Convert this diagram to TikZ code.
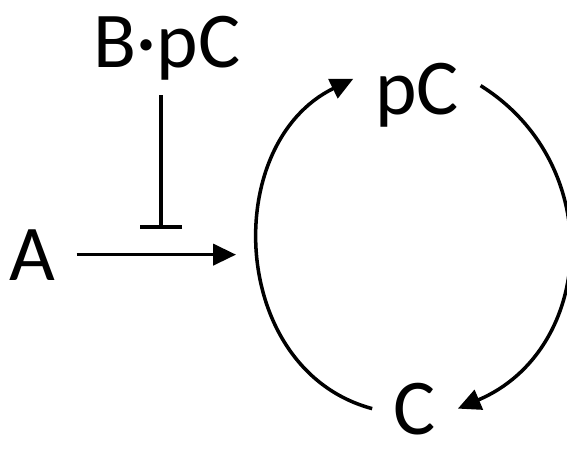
\documentclass[tikz,border=0pt]{standalone}
\usepackage{fontspec}
\setmainfont{Carlito}
\usetikzlibrary{arrows.meta}

\begin{document}
\begin{tikzpicture}[x=0.02cm,y=0.02cm,line width=2pt,
    species/.style={font=\fontsize{45}{54}\selectfont,inner ysep=0pt,inner xsep=0.4cm},
    act/.style={-{Triangle[length=13pt,width=12pt]}},
    inh/.style={-{Bar[width=24pt]}}]
  \useasboundingbox (0,0) rectangle (567,450);
  % species
  \node[species,anchor=base] (A) at (32,170) {A};
  \node[species,anchor=base,inner ysep=0.26cm] (BpC) at (167,382) {B·pC};
  \node[species,anchor=base] (pC) at (417,335) {pC};
  \node[species,anchor=base] (C) at (415,16) {C};
  \coordinate (join) at (236,197);
  \coordinate (block) at (161,221);
  % activation and inhibition
  \draw[act] (A.east) -- (A.east -| join);
  \draw[inh] (BpC.south -| block) -- (block);
  % cycle
  \draw[act] (C.west) to[out=165,in=206,looseness=1.15] (pC.165);
  \draw[act] (pC.9) to[out=-32,in=23,looseness=1.18] (C.east);
\end{tikzpicture}
\end{document}
